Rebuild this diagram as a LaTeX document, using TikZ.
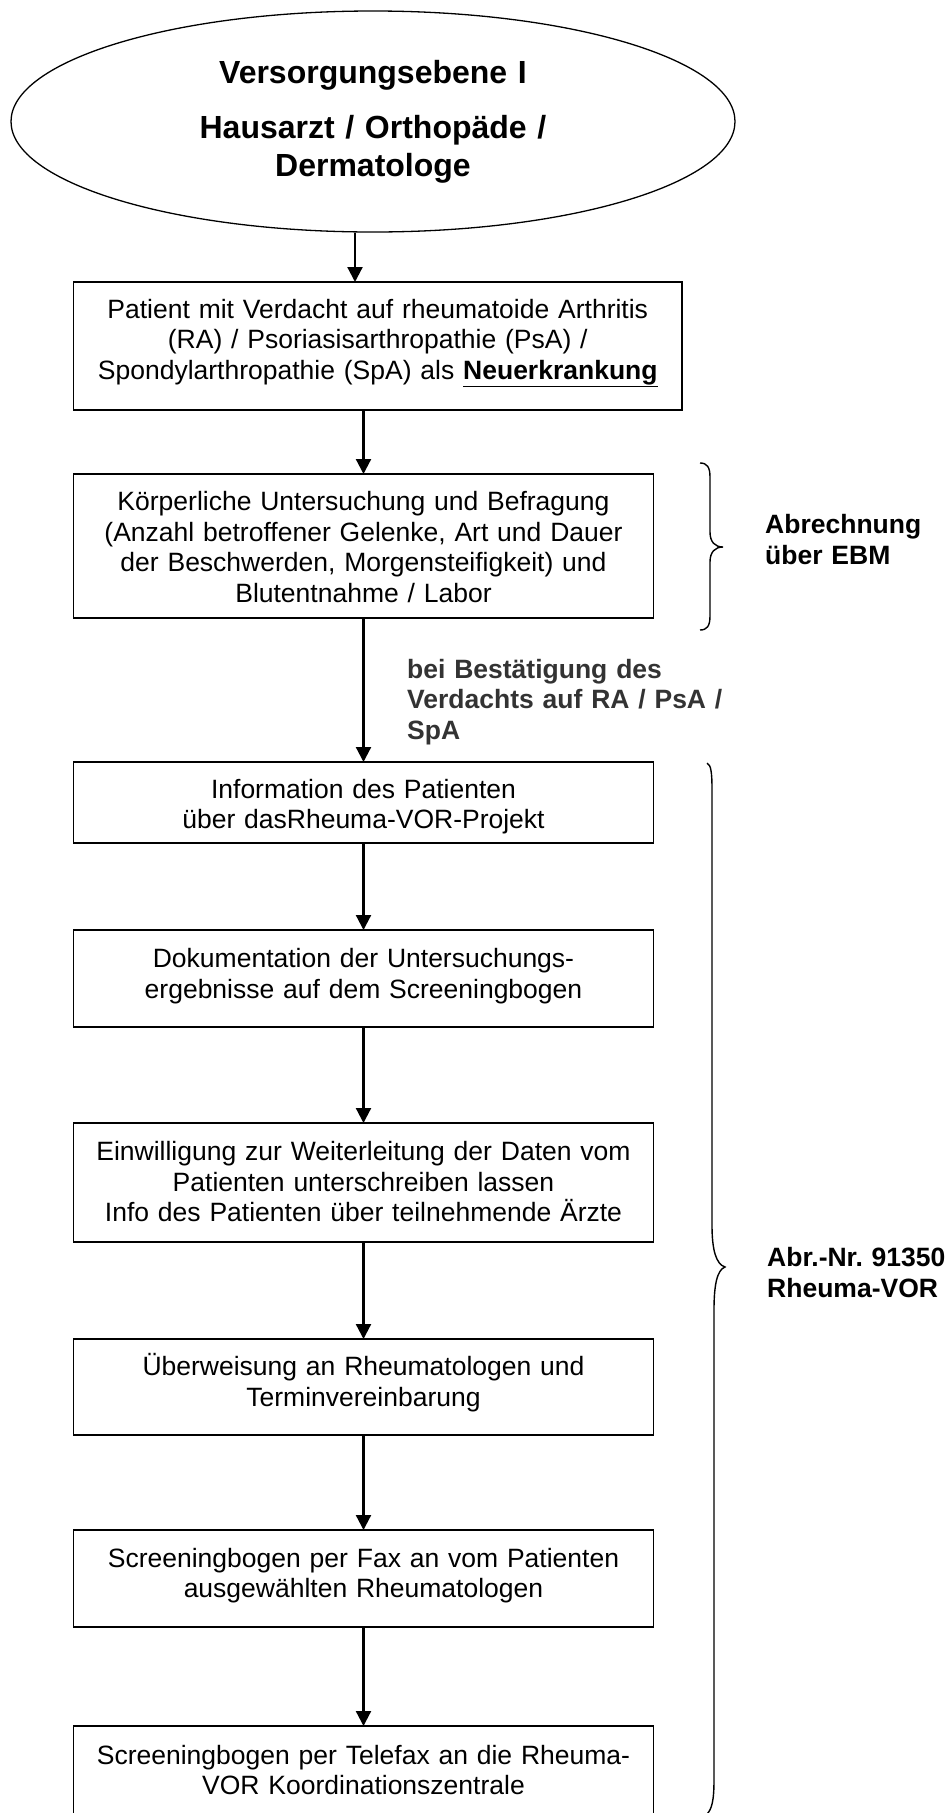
\documentclass[tikz,border=0pt]{standalone}
\usepackage{fontspec}
\setmainfont{Liberation Sans}
\usetikzlibrary{arrows.meta,shapes.geometric}
\definecolor{lblgray}{HTML}{333333}
\frenchspacing
\begin{document}
\begin{tikzpicture}[x=1pt,y=-1pt,
  box/.style={draw, line width=1.3pt, rectangle, inner sep=0pt, outer sep=0pt},
  body/.style={inner sep=0pt, text width=640pt, align=center, anchor=base, font=\fontsize{26.5}{30.5}\selectfont},
  lbl/.style={inner sep=0pt, text width=340pt, align=left, anchor=base west, font=\fontsize{26.5}{30.5}\selectfont\bfseries},
  flow/.style={line width=2.2pt, -{Triangle[length=15pt,width=15pt]}},
  bracepath/.style={line width=1.4pt}
]
\useasboundingbox (0,0) rectangle (950,1813);

% ellipse and title
\node[draw, ellipse, line width=1.3pt, minimum width=724pt, minimum height=221pt, inner sep=0pt] (ell) at (373,121.5) {};
\node[inner sep=0pt, text width=640pt, align=center, anchor=base, font=\fontsize{32}{38}\selectfont\bfseries] (title) at (373,83.5) {Versorgungsebene I\\[17pt]Hausarzt / Orthopäde /\\Dermatologe};

% boxes
\node[box, minimum width=608.5pt, minimum height=128pt] (b1) at (377.75,346) {};
\node[body] (t1) at (377.75,318) {Patient mit Verdacht auf rheumatoide Arthritis\\(RA) / Psoriasisarthropathie (PsA) /\\Spondylarthropathie (SpA) als \underline{\textbf{Neuerkrankung}}};

\node[box, minimum width=580pt, minimum height=144pt] (b2) at (363.5,546) {};
\node[body] (t2) at (363.5,510.5) {Körperliche Untersuchung und Befragung\\(Anzahl betroffener Gelenke, Art und Dauer\\der Beschwerden, Morgensteifigkeit) und\\Blutentnahme / Labor};

\node[box, minimum width=580pt, minimum height=81pt] (b3) at (363.5,802.5) {};
\node[body] (t3) at (363.5,798) {Information des Patienten\\über dasRheuma-VOR-Projekt};

\node[box, minimum width=580pt, minimum height=97pt] (b4) at (363.5,978.5) {};
\node[body] (t4) at (363.5,967.5) {Dokumentation der Untersuchungs-\\ergebnisse auf dem Screeningbogen};

\node[box, minimum width=580pt, minimum height=119pt] (b5) at (363.5,1182.5) {};
\node[body] (t5) at (363.5,1160.5) {Einwilligung zur Weiterleitung der Daten vom\\Patienten unterschreiben lassen\\Info des Patienten über teilnehmende Ärzte};

\node[box, minimum width=580pt, minimum height=96pt] (b6) at (363.5,1387) {};
\node[body] (t6) at (363.5,1375.5) {Überweisung an Rheumatologen und\\Terminvereinbarung};

\node[box, minimum width=580pt, minimum height=97pt] (b7) at (363.5,1578.5) {};
\node[body] (t7) at (363.5,1567) {Screeningbogen per Fax an vom Patienten\\ausgewählten Rheumatologen};

\node[box, minimum width=580pt, minimum height=104pt] (b8) at (363.5,1778) {};
\node[body] (t8) at (363.5,1764) {Screeningbogen per Telefax an die Rheuma-\\VOR Koordinationszentrale};

% connectors
\coordinate (ax) at (355,0);
\draw[flow] (ax |- ell.south) -- (ax |- b1.north);
\draw[flow] (b2.north |- b1.south) -- (b2.north);
\draw[flow] (b2.south) -- (b3.north);
\draw[flow] (b3.south) -- (b4.north);
\draw[flow] (b4.south) -- (b5.north);
\draw[flow] (b5.south) -- (b6.north);
\draw[flow] (b6.south) -- (b7.north);
\draw[flow] (b7.south) -- (b8.north);

% labels
\node[lbl, text=lblgray] (cond) at (407,678) {bei Bestätigung des\\Verdachts auf RA / PsA /\\SpA};
\node[lbl] (ebm) at (765,533.5) {Abrechnung\\über EBM};
\node[lbl] (vor) at (767,1266.5) {Abr.-Nr. 91350\\Rheuma-VOR};

% braces
\draw[bracepath] (700,463) .. controls (707,463) and (710,467) .. (710,477)
  -- (710,532) .. controls (710,542) and (715,547) .. (723,547)
  .. controls (715,547) and (710,552) .. (710,562)
  -- (710,616) .. controls (710,626) and (707,630) .. (700,630);
\draw[bracepath] (707,763) .. controls (711,765) and (712,772) .. (712,790)
  -- (712,1225) .. controls (712,1250) and (716,1264) .. (725,1267)
  .. controls (717,1270) and (714,1285) .. (714,1310)
  -- (714,1780) .. controls (714,1800) and (712,1810) .. (706,1815);
\end{tikzpicture}
\end{document}
